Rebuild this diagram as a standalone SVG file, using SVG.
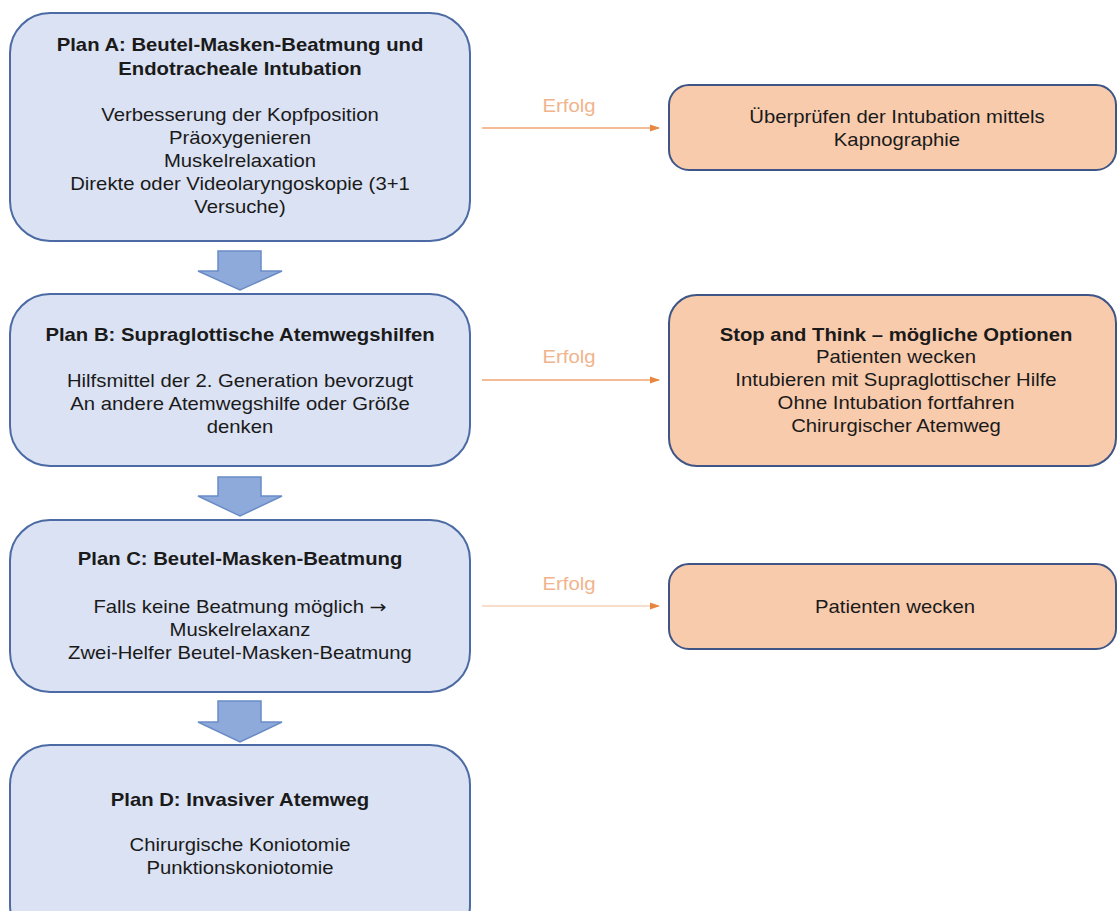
<svg xmlns="http://www.w3.org/2000/svg" width="1118" height="911" viewBox="0 0 1118 911">
<defs>
<style>
.plan{fill:#dae2f3;stroke:#4c6aa3;stroke-width:2}
.opt{fill:#f8cbad;stroke:#3f5585;stroke-width:2}
.t{font-family:"Liberation Sans",Arial,sans-serif;font-size:17.8px;fill:#1a1a1a;text-anchor:middle}
.r{font-size:17.8px}
.b{font-weight:bold;font-size:17.8px}
.lab{font-family:"Liberation Sans",Arial,sans-serif;font-size:18px;fill:#f0b48c;text-anchor:middle}
.big{fill:#8eaadb;stroke:#6a8cc6;stroke-width:1.5}
.con{stroke:#f2a575;stroke-width:1.5;fill:none}
.arr{font-family:"DejaVu Sans",sans-serif}
</style>
<marker id="ah" markerWidth="10" markerHeight="8" refX="9" refY="4" orient="auto" markerUnits="userSpaceOnUse">
<path d="M0,0.5 L10,4 L0,7.5 Z" fill="#e8853f"/>
</marker>
</defs>
<rect width="1118" height="911" fill="#ffffff"/>

<g id="planA">
<rect class="plan" x="10" y="13" width="460" height="228" rx="40"/>
<g transform="translate(240,0) scale(1.14,1)">
<text class="t b" x="0" y="51">Plan A: Beutel-Masken-Beatmung und</text>
<text class="t b" x="0" y="75">Endotracheale Intubation</text>
<text class="t" x="0" y="121">Verbesserung der Kopfposition</text>
<text class="t" x="0" y="144">Präoxygenieren</text>
<text class="t" x="0" y="167">Muskelrelaxation</text>
<text class="t" x="0" y="190">Direkte oder Videolaryngoskopie (3+1</text>
<text class="t" x="0" y="213">Versuche)</text>
</g>
</g>

<g id="planB">
<rect class="plan" x="10" y="294" width="460" height="172" rx="40"/>
<g transform="translate(240,0) scale(1.14,1)">
<text class="t b" x="0" y="341">Plan B: Supraglottische Atemwegshilfen</text>
<text class="t" x="0" y="387">Hilfsmittel der 2. Generation bevorzugt</text>
<text class="t" x="0" y="410">An andere Atemwegshilfe oder Größe</text>
<text class="t" x="0" y="433">denken</text>
</g>
</g>

<g id="planC">
<rect class="plan" x="10" y="520" width="460" height="172" rx="40"/>
<g transform="translate(240,0) scale(1.14,1)">
<text class="t b" x="0" y="565">Plan C: Beutel-Masken-Beatmung</text>
<text class="t" x="0" y="613">Falls keine Beatmung möglich <tspan class="arr">→</tspan></text>
<text class="t" x="0" y="636">Muskelrelaxanz</text>
<text class="t" x="0" y="659">Zwei-Helfer Beutel-Masken-Beatmung</text>
</g>
</g>

<g id="planD">
<rect class="plan" x="10" y="745" width="460" height="200" rx="40"/>
<g transform="translate(240,0) scale(1.14,1)">
<text class="t b" x="0" y="806">Plan D: Invasiver Atemweg</text>
<text class="t" x="0" y="851">Chirurgische Koniotomie</text>
<text class="t" x="0" y="874">Punktionskoniotomie</text>
</g>
</g>

<g id="optA">
<rect class="opt" x="669" y="85" width="447" height="85" rx="20"/>
<g transform="translate(897,0) scale(1.14,1)">
<text class="t r" x="0" y="123">Überprüfen der Intubation mittels</text>
<text class="t r" x="0" y="146">Kapnographie</text>
</g>
</g>

<g id="optB">
<rect class="opt" x="669" y="295" width="447" height="171" rx="28"/>
<g transform="translate(896,0) scale(1.14,1)">
<text class="t b" x="0" y="341">Stop and Think – mögliche Optionen</text>
<text class="t r" x="0" y="363">Patienten wecken</text>
<text class="t r" x="0" y="386">Intubieren mit Supraglottischer Hilfe</text>
<text class="t r" x="0" y="409">Ohne Intubation fortfahren</text>
<text class="t r" x="0" y="432">Chirurgischer Atemweg</text>
</g>
</g>

<g id="optC">
<rect class="opt" x="669" y="564" width="447" height="85" rx="20"/>
<g transform="translate(895,0) scale(1.14,1)">
<text class="t r" x="0" y="613">Patienten wecken</text>
</g>
</g>

<g id="connectors">
<path class="big" d="M218,251 H261 V271 H282 L240,290 L198,271 H218 Z"/>
<path class="big" d="M218,477 H261 V496 H282 L240,516 L198,496 H218 Z"/>
<path class="big" d="M218,701 H261 V722 H282 L240,742 L198,722 H218 Z"/>

<line class="con" x1="482" y1="128" x2="659" y2="128" marker-end="url(#ah)"/>
<line class="con" x1="482" y1="380" x2="659" y2="380" marker-end="url(#ah)"/>
<line class="con" x1="482" y1="606" x2="659" y2="606" stroke-opacity="0.5" marker-end="url(#ah)"/>
<g transform="translate(569,0) scale(1.13,1)">
<text class="lab" x="0" y="112">Erfolg</text>
<text class="lab" x="0" y="363">Erfolg</text>
<text class="lab" x="0" y="590">Erfolg</text>
</g>
</g>
</svg>
